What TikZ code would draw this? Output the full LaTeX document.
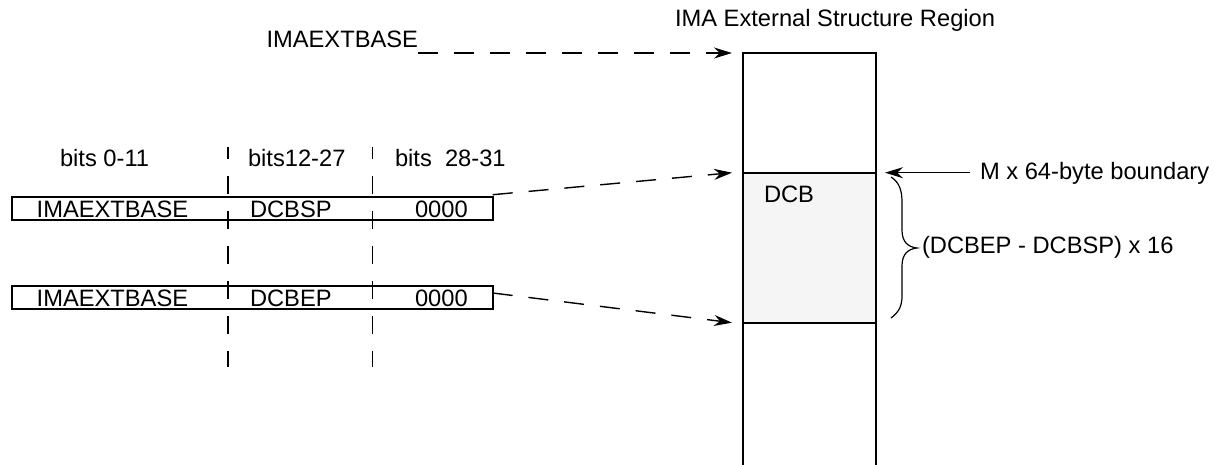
\documentclass[tikz,border=0pt]{standalone}
\usepackage{fontspec}
\setmainfont{Liberation Sans}
\usetikzlibrary{arrows.meta,calc}
\definecolor{dcbgray}{RGB}{245,245,245}
\tikzset{
 txt/.style={inner sep=0pt, outer sep=0pt, font=\fontsize{23.7}{28}\selectfont},
 field/.style={draw, line width=1.7pt, inner sep=0pt, outer sep=0pt, anchor=north west, minimum width=480.7pt, minimum height=23.3pt},
 col/.style={draw, line width=1.9pt, inner sep=0pt, outer sep=0pt, anchor=north west, minimum width=133pt},
 dasharrow/.style={line width=1.4pt, dash pattern=on 20pt off 16pt, -{Stealth[length=18pt,width=11pt]}},
 divider/.style={line width=1.6pt, dash pattern=on 18pt off 17pt, dash phase=6pt},
 solidarrow/.style={line width=1.5pt, -{Stealth[length=18pt,width=11pt]}},
}
\begin{document}
\begin{tikzpicture}[x=1pt,y=-1pt]
\useasboundingbox (0,0) rectangle (1215,465);

% memory column
\node[col, minimum height=119.7pt] (colTop) at (743,53) {};
\node[col, fill=dcbgray, minimum height=150pt] (dcb) at (743,172.7) {};
\node[col, minimum height=160pt] (colBot) at (743,322.7) {};
\node[txt, anchor=base west] (dcblabel) at (764,202.3) {DCB};
\node[txt, anchor=base west] (title) at (675,27) {IMA External Structure Region};

% top pointer
\node[txt, anchor=base east] (ibase) at (418,47.6) {IMAEXTBASE};
\draw[dasharrow] (ibase.east |- colTop.north) -- ([xshift=-11pt]colTop.north west);

% bit labels
\node[txt, anchor=base west] (b1) at (60,166.7) {bits 0-11};
\node[txt, anchor=base west] (b2) at (248,166.7) {bits12-27};
\node[txt, anchor=base west] (b3) at (395,166.7) {bits\ \ 28-31};

% rows
\node[field] (row1) at (12,196.7) {};
\node[field] (row2) at (12,286) {};
\node[txt, anchor=base west] (r1a) at (36.7,217.3) {IMAEXTBASE};
\node[txt, anchor=base west] (r1b) at (250,217.3) {DCBSP};
\node[txt, anchor=base west] (r1c) at (415,217.3) {0000};
\node[txt, anchor=base west] (r2a) at (36.7,306.7) {IMAEXTBASE};
\node[txt, anchor=base west] (r2b) at (250,306.7) {DCBEP};
\node[txt, anchor=base west] (r2c) at (415,306.7) {0000};

% dashed dividers
\coordinate (d1a) at (227.7,147);
\coordinate (d1b) at (227.7,367);
\coordinate (d2a) at (372.3,147);
\coordinate (d2b) at (372.3,367);
\draw[divider] (d1a) -- (d1b);
\draw[divider] (d2a) -- (d2b);

% pointers from rows
\draw[dasharrow] ([yshift=2pt]row1.north east) -- ([xshift=-11pt]dcb.north west);
\draw[dasharrow] ([yshift=-7pt]row2.north east) -- ([xshift=-11pt]dcb.south west);

% boundary annotation
\node[txt, anchor=base west] (mtext) at (980,179.5) {M x 64-byte boundary};
\draw[solidarrow] ([xshift=-10pt]mtext.west |- dcb.north east) -- ([xshift=9pt]dcb.north east);

% brace
\draw[line width=1.2pt] (891,177) .. controls (899,182) and (902,190) .. (902,202) -- (902,230)
  .. controls (902,242) and (908,247) .. (917,248)
  .. controls (908,249) and (902,254) .. (902,266) -- (902,296)
  .. controls (902,306) and (899,312) .. (891,318);
\node[txt, anchor=base west] (size) at (922,253.3) {(DCBEP - DCBSP) x 16};
\end{tikzpicture}
\end{document}
